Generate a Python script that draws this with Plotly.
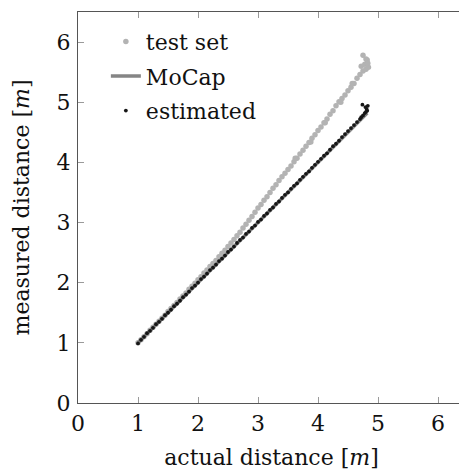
import plotly.graph_objects as go

test_x = [1.00, 1.05, 1.10, 1.15, 1.20, 1.25, 1.30, 1.35, 1.40, 1.45, 1.50, 1.55, 1.60, 1.65, 1.70,
          1.75, 1.80, 1.85, 1.90, 1.95, 2.00, 2.05, 2.10, 2.15, 2.20, 2.25, 2.30, 2.35, 2.40, 2.45,
          2.50, 2.55, 2.60, 2.65, 2.70, 2.75, 2.80, 2.85, 2.90, 2.95, 3.00, 3.05, 3.10, 3.15, 3.20,
          3.25, 3.30, 3.35, 3.40, 3.45, 3.50, 3.55, 3.60, 3.65, 3.70, 3.75, 3.80, 3.85, 3.90, 3.95,
          4.00, 4.05, 4.10, 4.15, 4.20, 4.25, 4.30, 4.35, 4.40, 4.45, 4.50, 4.55, 4.60, 4.65, 4.70,
          4.72, 4.75, 4.78, 4.80, 4.82, 4.84, 4.75, 4.80, 4.83, 3.62, 3.88, 4.12, 4.38, 4.57]
test_y = [1.00, 1.05, 1.10, 1.15, 1.21, 1.26, 1.31, 1.36, 1.41, 1.46, 1.52, 1.57, 1.62, 1.67, 1.73,
          1.78, 1.83, 1.89, 1.94, 1.99, 2.05, 2.10, 2.16, 2.21, 2.27, 2.32, 2.37, 2.43, 2.49, 2.54,
          2.60, 2.66, 2.72, 2.78, 2.84, 2.91, 2.97, 3.04, 3.10, 3.17, 3.24, 3.30, 3.37, 3.43, 3.50,
          3.57, 3.63, 3.70, 3.76, 3.82, 3.88, 3.94, 4.01, 4.07, 4.14, 4.20, 4.27, 4.33, 4.40, 4.46,
          4.53, 4.59, 4.66, 4.72, 4.80, 4.86, 4.94, 5.01, 5.06, 5.12, 5.19, 5.25, 5.31, 5.40, 5.46,
          5.60, 5.52, 5.63, 5.55, 5.70, 5.58, 5.78, 5.72, 5.65, 4.07, 4.34, 4.66, 5.00, 5.31]

mocap_x = [1.00, 4.82]
mocap_y = [1.00, 4.82]

est_x = [1.00, 1.05, 1.10, 1.15, 1.20, 1.25, 1.30, 1.35, 1.40, 1.45, 1.50, 1.55, 1.60, 1.65, 1.70,
         1.75, 1.80, 1.85, 1.90, 1.95, 2.00, 2.05, 2.10, 2.15, 2.20, 2.25, 2.30, 2.35, 2.40, 2.45,
         2.50, 2.55, 2.60, 2.65, 2.70, 2.75, 2.80, 2.85, 2.90, 2.95, 3.00, 3.05, 3.10, 3.15, 3.20,
         3.25, 3.30, 3.35, 3.40, 3.45, 3.50, 3.55, 3.60, 3.65, 3.70, 3.75, 3.80, 3.85, 3.90, 3.95,
         4.00, 4.05, 4.10, 4.15, 4.20, 4.25, 4.30, 4.35, 4.40, 4.45, 4.50, 4.55, 4.60, 4.65, 4.70,
         4.72, 4.75, 4.78, 4.80, 4.82, 4.74, 4.79, 4.81, 4.83]
est_y = [0.99, 1.05, 1.10, 1.16, 1.20, 1.25, 1.31, 1.35, 1.40, 1.46, 1.50, 1.55, 1.61, 1.65, 1.70,
         1.76, 1.80, 1.85, 1.91, 1.95, 2.00, 2.06, 2.10, 2.15, 2.21, 2.25, 2.30, 2.36, 2.40, 2.45,
         2.51, 2.55, 2.60, 2.66, 2.71, 2.75, 2.81, 2.85, 2.91, 2.95, 3.01, 3.05, 3.11, 3.15, 3.21,
         3.25, 3.31, 3.35, 3.41, 3.46, 3.50, 3.56, 3.61, 3.65, 3.71, 3.76, 3.81, 3.85, 3.91, 3.96,
         4.01, 4.06, 4.11, 4.15, 4.21, 4.27, 4.31, 4.36, 4.42, 4.47, 4.52, 4.57, 4.62, 4.67, 4.72,
         4.75, 4.78, 4.82, 4.84, 4.86, 4.96, 4.92, 4.89, 4.94]

x_ticks = [0, 1, 2, 3, 4, 5, 6]
y_ticks = [0, 1, 2, 3, 4, 5, 6]

FONT = "DejaVu Serif, Liberation Serif, serif"

fig = go.Figure()
fig.add_trace(go.Scatter(x=test_x, y=test_y, mode="markers", name="test set", legendgroup="a",
                         marker=dict(color="#b3b3b3", size=5.5)))
fig.add_trace(go.Scatter(x=mocap_x, y=mocap_y, mode="lines", name="MoCap", legendgroup="b",
                         line=dict(color="#858585", width=3.5)))
fig.add_trace(go.Scatter(x=est_x, y=est_y, mode="markers", name="estimated", legendgroup="c",
                         marker=dict(color="#161616", size=3.8)))

axis_common = dict(showgrid=False, zeroline=False, showline=True, linecolor="#555555",
                   linewidth=1.3, mirror="allticks", ticks="inside", ticklen=6,
                   tickcolor="#9a9a9a", tickwidth=1, automargin=False,
                   tickfont=dict(family=FONT, size=22, color="#111111"))

fig.update_layout(
    width=459, height=467,
    margin=dict(l=70, r=2, t=4, b=72),
    paper_bgcolor="white", plot_bgcolor="white",
    font=dict(family=FONT, size=22, color="#111111"),
    xaxis=dict(range=[0, 6.45], tickvals=x_ticks, ticktext=[str(v) for v in x_ticks],
               title=dict(text="actual distance [<i>m</i>]", font=dict(family=FONT, size=22), standoff=15),
               **axis_common),
    yaxis=dict(range=[0, 6.5], tickvals=y_ticks, ticktext=[str(v) for v in y_ticks],
               ticklabelstandoff=2,
               title=dict(text="measured distance [<i>m</i>]", font=dict(family=FONT, size=22), standoff=20),
               **axis_common),
    legend=dict(x=0.072, y=0.978, xanchor="left", yanchor="top", bgcolor="rgba(255,255,255,0)",
                font=dict(family=FONT, size=22), itemsizing="trace", itemwidth=30,
                tracegroupgap=3),
    showlegend=True,
)

fig.write_html("out.html")
